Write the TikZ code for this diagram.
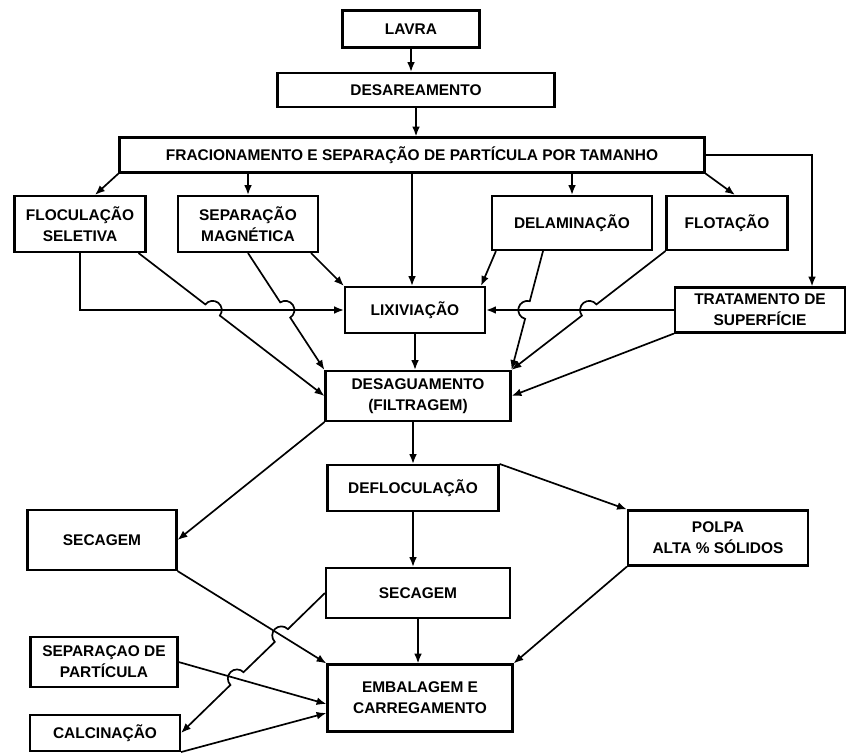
\documentclass[tikz,border=0pt]{standalone}
\usepackage{fontspec}
\setmainfont{Liberation Sans}
\usepackage{tikz}
\usetikzlibrary{calc,arrows.meta}

\newcommand{\hoplen}{6.5pt}
% straight arrow with one jump at #2, #4 = side of the bump (+180/-180)
\newcommand{\hopline}[4]{%
  \draw[flow] let \p1=($(#3)-(#1)$), \n1={atan2(\y1,\x1)} in
    (#1) -- ($(#2)+(\n1+180:\hoplen)$)
    arc[start angle=\n1+180, delta angle=#4, radius=\hoplen] -- (#3);}

\begin{document}
\begin{tikzpicture}[x=0.025cm, y=-0.025cm,
  box/.style 2 args={draw, line width=1.5pt, align=center, inner sep=0pt,
    minimum width=#1*0.025cm, minimum height=#2*0.025cm,
    font=\bfseries\fontsize{11}{15}\selectfont},
  flow/.style={line width=1.2pt, -{Latex[length=7pt,width=5.5pt]}}]
\useasboundingbox (0,0) rectangle (846,753);
% boxes
\node[box={137}{37}] (lavra) at (411,29) {LAVRA};
\node[box={277}{34}] (desar) at (416,90) {DESAREAMENTO};
\node[box={585}{35}] (frac) at (412,155) {FRACIONAMENTO E SEPARAÇÃO DE PARTÍCULA POR TAMANHO};
\node[box={131}{56}] (floc) at (80,224) {FLOCULAÇÃO\\SELETIVA};
\node[box={140}{56}] (sepmag) at (248,224) {SEPARAÇÃO\\MAGNÉTICA};
\node[box={160}{54}] (delam) at (572,223) {DELAMINAÇÃO};
\node[box={121}{54}] (flot) at (727,223) {FLOTAÇÃO};
\node[box={140}{46}] (lix) at (415,310) {LIXIVIAÇÃO};
\node[box={170}{45}] (trat) at (760,310) {TRATAMENTO DE\\SUPERFÍCIE};
\node[box={185}{50}] (desag) at (418,396) {DESAGUAMENTO\\(FILTRAGEM)};
\node[box={171}{46}] (defloc) at (413,488) {DEFLOCULAÇÃO};
\node[box={149}{60}] (sec1) at (102,540) {SECAGEM};
\node[box={180}{55}] (polpa) at (718,538) {POLPA\\ALTA \% SÓLIDOS};
\node[box={184}{50}] (sec2) at (418,593) {SECAGEM};
\node[box={147}{50}] (seppart) at (104,662) {SEPARAÇAO DE\\PARTÍCULA};
\node[box={185}{67}] (emb) at (420,698) {EMBALAGEM E\\CARREGAMENTO};
\node[box={150}{36}] (calcin) at (105,733) {CALCINAÇÃO};

% end points off the anchors
\coordinate (flocout) at ($(floc.south east)+(-8,0)$);
\coordinate (delout) at ($(delam.south)+(-29,0)$);
\coordinate (embin1) at ($(emb.west)+(0,6)$);
\coordinate (embin2) at ($(emb.west)+(0,15)$);
% crossings
\coordinate (j1) at (intersection of flocout--desag.west and lix.west--lix.east);
\coordinate (j2) at (intersection of sepmag.south--desag.north west and lix.west--lix.east);
\coordinate (j3) at (intersection of delout--desag.north east and lix.east--trat.west);
\coordinate (j4) at (intersection of flot.south west--desag.north east and lix.east--trat.west);
\coordinate (j5) at (intersection of sec2.west--calcin.east and sec1.south east--emb.north west);
\coordinate (j6) at (intersection of sec2.west--calcin.east and seppart.east--embin1);

% top
\draw[flow] (lavra.south) -- (lavra.south |- desar.north);
\draw[flow] (desar.south) -- (desar.south |- frac.north);
\draw[flow] (frac.south west) -- ($(floc.north)+(15,0)$);
\draw[flow] (sepmag.north |- frac.south) -- (sepmag.north);
\draw[flow] (frac.south) -- (frac.south |- lix.north);
\draw[flow] (delam.north |- frac.south) -- (delam.north);
\draw[flow] (frac.south east) -- ($(flot.north)+(8,0)$);
\draw[flow] (frac.east) -| ($(trat.north)+(52,0)$);
% into lixiviacao
\draw[flow] (floc.south) |- (lix.west);
\draw[flow] ($(sepmag.south east)+(-8,0)$) -- (lix.north west);
\draw[flow] ($(delam.south west)+(5,0)$) -- ($(lix.north east)+(-5,0)$);
\draw[flow] (trat.west) -- (lix.east);
% into desaguamento
\draw[flow] (lix.south) -- (lix.south |- desag.north);
\hopline{flocout}{j1}{desag.west}{-180}
\hopline{sepmag.south}{j2}{desag.north west}{-180}
\hopline{delout}{j3}{desag.north east}{180}
\hopline{flot.south west}{j4}{desag.north east}{180}
\draw[flow] (trat.south west) -- (desag.east);
% lower part
\draw[flow] (desag.south west) -- (sec1.east);
\draw[flow] (desag.south -| defloc.north) -- (defloc.north);
\draw[flow] (defloc.north east) -- (polpa.north west);
\draw[flow] (defloc.south) -- (defloc.south |- sec2.north);
\draw[flow] (sec2.south) -- (sec2.south |- emb.north);
\draw[flow] (polpa.south west) -- (emb.north east);
\draw[flow] (sec1.south east) -- (emb.north west);
\draw[flow] (seppart.east) -- (embin1);
\draw[flow] (calcin.south east) -- (embin2);
% secagem to calcinacao, two jumps
\draw[flow] let \p1=($(calcin.east)-(sec2.west)$), \n1={atan2(\y1,\x1)} in
  (sec2.west) -- ($(j5)+(\n1+180:\hoplen)$)
  arc[start angle=\n1+180, delta angle=180, radius=\hoplen]
  -- ($(j6)+(\n1+180:\hoplen)$)
  arc[start angle=\n1+180, delta angle=180, radius=\hoplen] -- (calcin.east);
\end{tikzpicture}
\end{document}
